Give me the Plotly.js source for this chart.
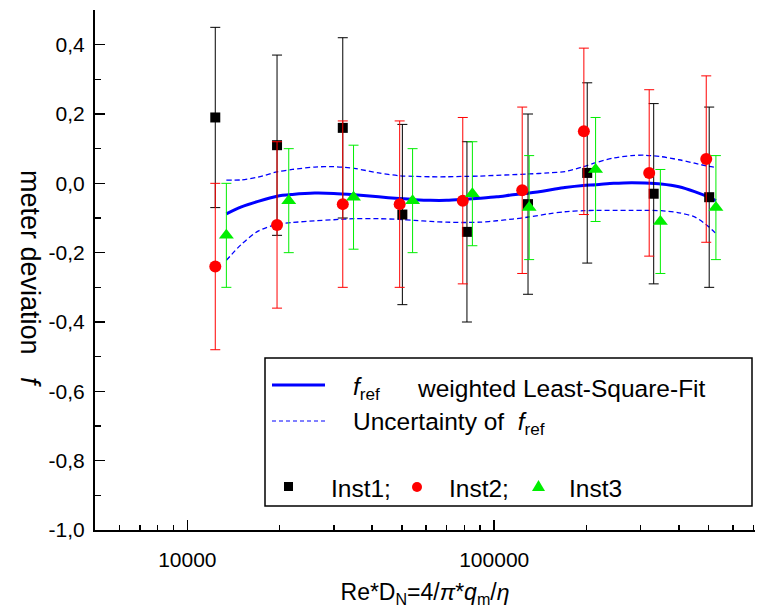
<!DOCTYPE html>
<html>
<head>
<meta charset="utf-8">
<script src="https://cdn.plot.ly/plotly-3.0.1.min.js"></script>
<style>html,body{margin:0;padding:0;background:#fff;}#chart{width:762px;height:612px;}</style>
</head>
<body>
<div id="chart"></div>
<script>
// ---- data ----
const inst1X = [12330, 19600, 32100, 50200, 81500, 128900, 201000, 331000, 502000];
const inst1Y = [0.19, 0.11, 0.16, -0.09, -0.14, -0.06, 0.03, -0.03, -0.04];
const inst1Err = [0.26, 0.26, 0.26, 0.26, 0.26, 0.26, 0.26, 0.26, 0.26];

const inst2X = [12330, 19600, 32100, 49200, 79000, 123400, 196000, 320000, 491000];
const inst2Y = [-0.24, -0.12, -0.06, -0.06, -0.05, -0.02, 0.15, 0.03, 0.07];
const inst2Err = [0.24, 0.24, 0.24, 0.24, 0.24, 0.24, 0.24, 0.24, 0.24];

const inst3X = [13400, 21400, 34800, 54200, 84900, 130000, 214000, 348000, 528000];
const inst3Y = [-0.15, -0.05, -0.04, -0.05, -0.03, -0.07, 0.04, -0.11, -0.07];
const inst3Err = [0.15, 0.15, 0.15, 0.15, 0.15, 0.15, 0.15, 0.15, 0.15];

const fitX = [13400, 15000, 17000, 19600, 22000, 26000, 30000, 35000, 42000, 49000, 55000, 62000, 70000, 80000, 90000,
              102000, 115000, 130000, 150000, 170000, 195000, 215000, 245000, 280000, 310000, 350000, 400000, 450000, 500000, 528000];
const fitY = [-0.088, -0.068, -0.052, -0.037, -0.032, -0.028, -0.029, -0.033, -0.039, -0.044, -0.047, -0.049, -0.049, -0.046, -0.043,
              -0.039, -0.033, -0.028, -0.020, -0.012, -0.006, -0.004, 0.000, 0.002, 0.001, -0.002, -0.010, -0.024, -0.040, -0.050];
const fitUpper = [0.009, 0.010, 0.018, 0.033, 0.040, 0.047, 0.048, 0.043, 0.030, 0.022, 0.020, 0.019, 0.019, 0.020, 0.021,
                  0.023, 0.025, 0.027, 0.030, 0.034, 0.048, 0.060, 0.073, 0.080, 0.081, 0.077, 0.068, 0.058, 0.049, 0.046];
const fitLower = [-0.222, -0.176, -0.138, -0.118, -0.113, -0.108, -0.105, -0.102, -0.102, -0.104, -0.107, -0.110, -0.112, -0.113, -0.112,
                  -0.108, -0.103, -0.097, -0.088, -0.082, -0.079, -0.078, -0.078, -0.078, -0.078, -0.079, -0.085, -0.097, -0.125, -0.145];

const yTickVals = [-1.0, -0.8, -0.6, -0.4, -0.2, 0.0, 0.2, 0.4];
const yTickText = ['-1,0', '-0,8', '-0,6', '-0,4', '-0,2', '0,0', '0,2', '0,4'];
const yMinorVals = [-0.9, -0.7, -0.5, -0.3, -0.1, 0.1, 0.3, 0.5];
const xTickVals = [10000, 100000];
const xTickText = ['10000', '100000'];
const xMinorVals = [6000, 7000, 8000, 9000, 20000, 30000, 40000, 50000, 60000, 70000, 80000, 90000,
                    200000, 300000, 400000, 500000, 600000, 700000];

// ---- layout geometry ----
const W = 762, H = 612, ML = 95, MR = 7, MT = 10, MB = 82;
const PW = W - ML - MR, PH = H - MT - MB;
const px = x => (x - ML) / PW;
const py = y => (H - MB - y) / PH;

const FONT = 'Arial, "Liberation Sans", sans-serif';
const BLUE = '#0000ff', RED = '#ff0000', GREEN = '#00ee00';

const traces = [
  {x: fitX, y: fitUpper, mode: 'lines', line: {color: BLUE, width: 1.3, dash: '5px,3px', shape: 'spline', smoothing: 0.8}, hoverinfo: 'skip'},
  {x: fitX, y: fitLower, mode: 'lines', line: {color: BLUE, width: 1.3, dash: '5px,3px', shape: 'spline', smoothing: 0.8}, hoverinfo: 'skip'},
  {x: fitX, y: fitY, mode: 'lines', line: {color: BLUE, width: 3, shape: 'spline', smoothing: 0.8}},
  {x: inst1X, y: inst1Y, mode: 'markers', marker: {symbol: 'square', size: 10, color: '#000000'},
   error_y: {type: 'data', array: inst1Err, visible: true, color: '#000000', thickness: 1, width: 5}},
  {x: inst2X, y: inst2Y, mode: 'markers', marker: {symbol: 'circle', size: 12, color: RED},
   error_y: {type: 'data', array: inst2Err, visible: true, color: RED, thickness: 1, width: 5}},
  {x: inst3X, y: inst3Y, mode: 'markers', marker: {symbol: 'triangle-up', size: 13, color: GREEN},
   error_y: {type: 'data', array: inst3Err, visible: true, color: GREEN, thickness: 1, width: 5}}
];

const shapes = [
  {type: 'rect', xref: 'paper', yref: 'paper', x0: px(265), x1: px(752), y0: py(506), y1: py(358), line: {color: '#000', width: 1.5}, fillcolor: 'rgba(0,0,0,0)'},
  {type: 'line', xref: 'paper', yref: 'paper', x0: px(272), x1: px(325), y0: py(385), y1: py(385), line: {color: BLUE, width: 3}},
  {type: 'line', xref: 'paper', yref: 'paper', x0: px(272), x1: px(325), y0: py(421), y1: py(421), line: {color: BLUE, width: 1, dash: '4px,3px'}},
  {type: 'rect', xref: 'paper', yref: 'paper', x0: px(284), x1: px(293), y0: py(491), y1: py(482), fillcolor: '#000', line: {width: 0}},
  {type: 'circle', xref: 'paper', yref: 'paper', x0: px(412), x1: px(422), y0: py(492), y1: py(482), fillcolor: RED, line: {width: 0}},
  {type: 'path', xref: 'paper', yref: 'paper',
   path: `M ${px(532)} ${py(491)} L ${px(545)} ${py(491)} L ${px(538.5)} ${py(480)} Z`, fillcolor: GREEN, line: {width: 0}}
];

const ann = (x, y, text, extra) => Object.assign({xref: 'paper', yref: 'paper', x: px(x), y: py(y), text: text,
  showarrow: false, xanchor: 'left', yanchor: 'middle', font: {family: FONT, size: 24.5, color: '#000'}}, extra || {});

const annotations = [
  ann(351, 388, '<i>f</i><sub>ref</sub>'),
  ann(415, 388, 'weighted Least-Square-Fit'),
  ann(351, 423, 'Uncertainty of \u00a0<i>f</i><sub>ref</sub>'),
  ann(329, 488, 'Inst1;'),
  ann(447, 488, 'Inst2;'),
  ann(567, 488, 'Inst3'),
  {xref: 'paper', yref: 'paper', x: px(30), y: py(278), text: 'meter deviation \u00a0\u00a0<i>f</i>', textangle: 90,
   showarrow: false, xanchor: 'center', yanchor: 'middle', font: {family: FONT, size: 27, color: '#000'}}
];

const layout = {
  width: W, height: H,
  margin: {l: ML, r: MR, t: MT, b: MB, pad: 0},
  paper_bgcolor: '#fff', plot_bgcolor: '#fff',
  showlegend: false,
  separators: ', ',
  font: {family: FONT, size: 20, color: '#000'},
  xaxis: {
    type: 'log', range: [Math.log10(5000), 5.85],
    showgrid: false, zeroline: false,
    showline: true, linecolor: '#000', linewidth: 2,
    ticks: 'inside', ticklen: 10, tickwidth: 1.5, tickcolor: '#000',
    tickmode: 'array', tickvals: xTickVals, ticktext: xTickText,
    ticklabelstandoff: 10,
    tickfont: {family: FONT, size: 21},
    minor: {ticks: 'inside', ticklen: 5, tickwidth: 1.5, tickcolor: '#000', tickmode: 'array', tickvals: xMinorVals, showgrid: false},
    title: {text: 'Re*D<sub>N</sub>=4/<i>\u03c0</i>*<i>q</i><sub>m</sub>/<i>\u03b7</i>', font: {family: FONT, size: 23}, standoff: 14}
  },
  yaxis: {
    range: [-1.0, 0.5],
    showgrid: false, zeroline: false,
    showline: true, linecolor: '#000', linewidth: 2,
    ticks: 'inside', ticklen: 10, tickwidth: 1.5, tickcolor: '#000',
    tickmode: 'array', tickvals: yTickVals, ticktext: yTickText,
    ticklabelstandoff: 4,
    tickfont: {family: FONT, size: 21},
    minor: {ticks: 'inside', ticklen: 6, tickwidth: 1.5, tickcolor: '#000', tickmode: 'array', tickvals: yMinorVals, showgrid: false}
  },
  shapes: shapes,
  annotations: annotations
};

Plotly.newPlot('chart', traces, layout, {displayModeBar: false, staticPlot: true});
</script>
</body>
</html>
